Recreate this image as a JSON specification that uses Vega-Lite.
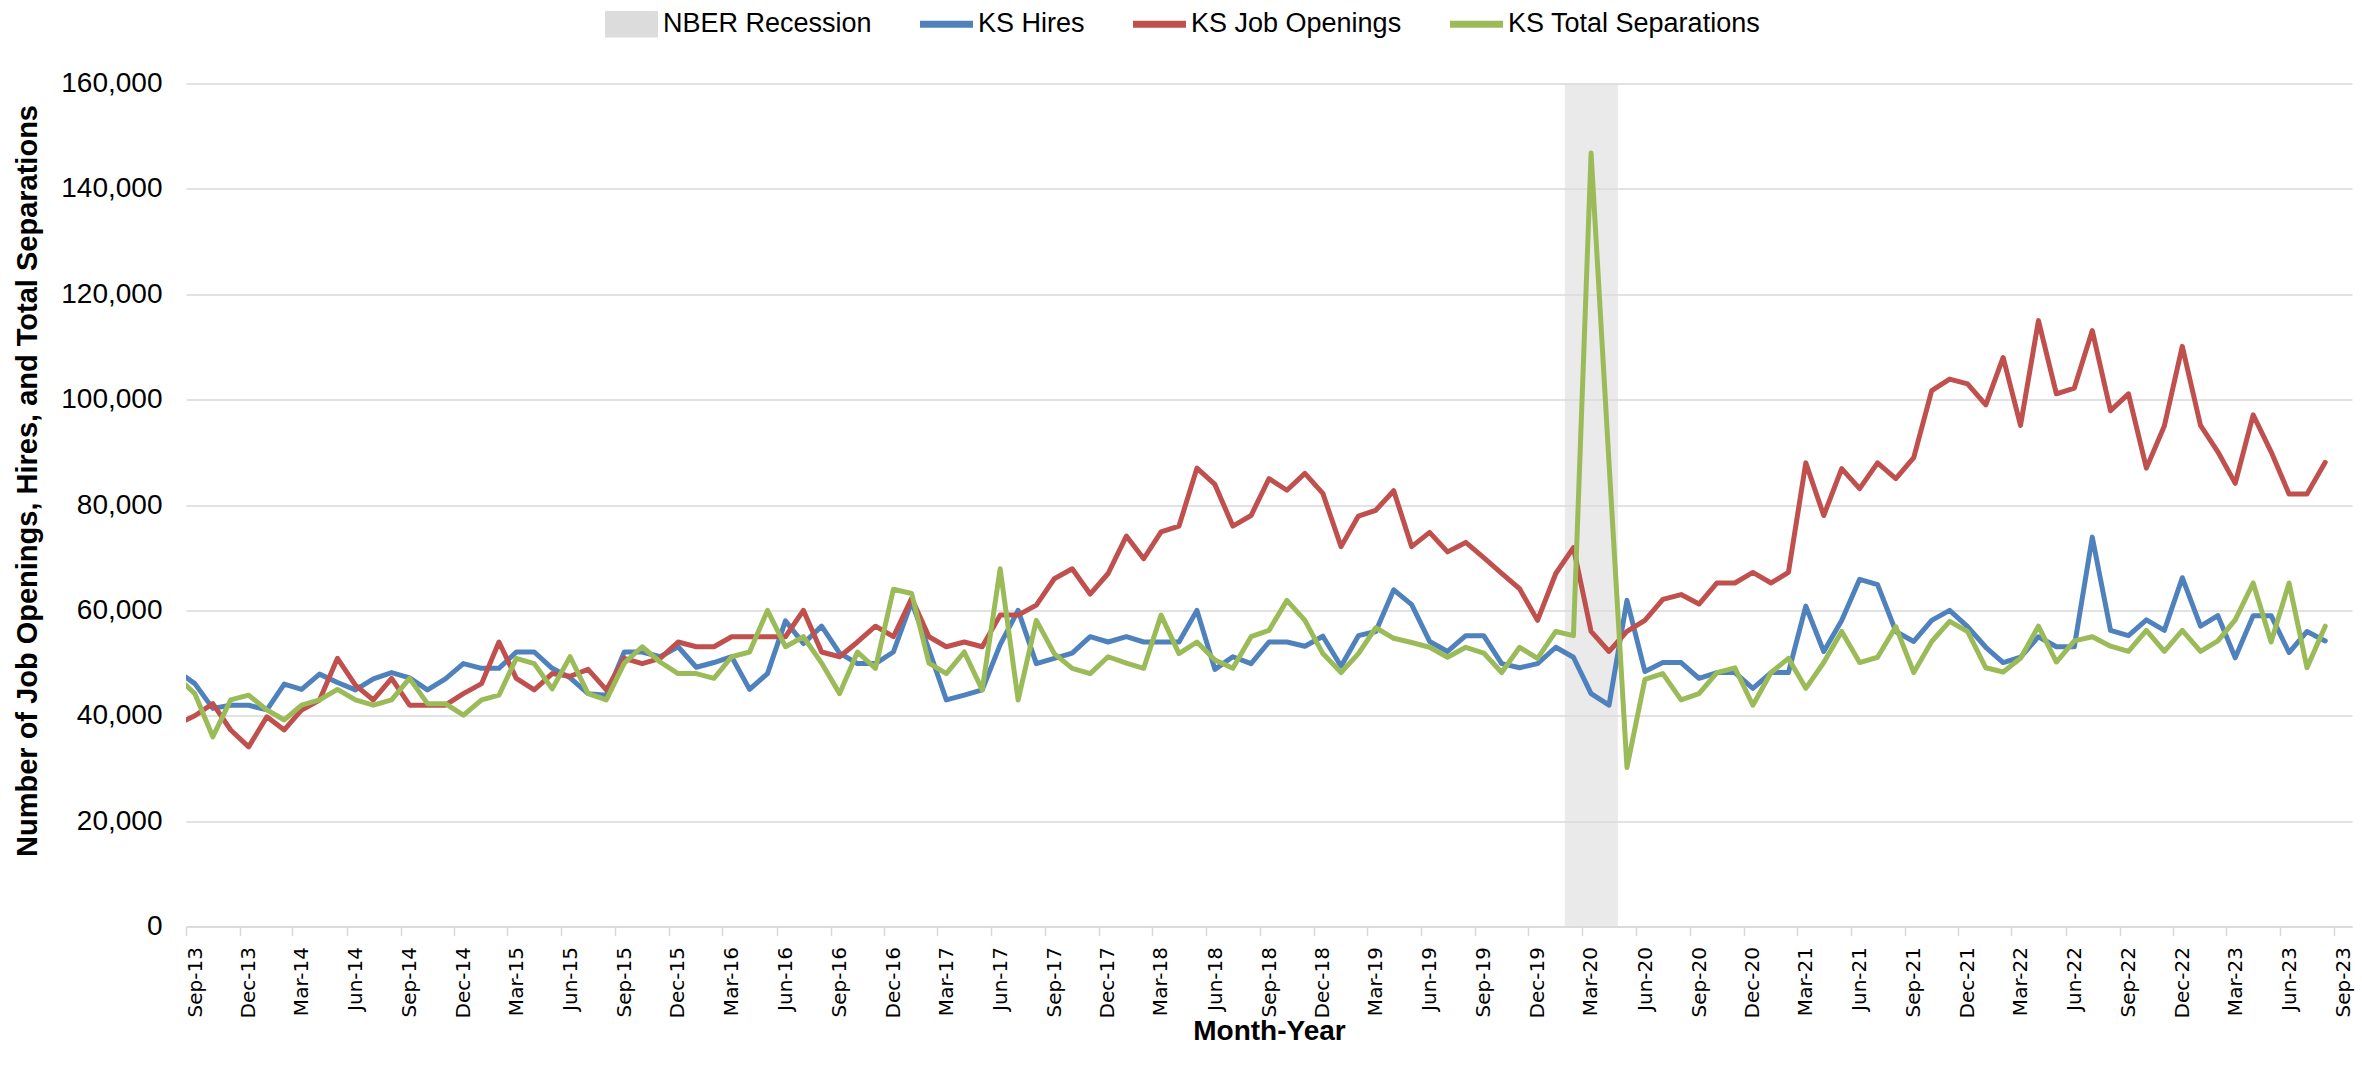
{
  "$schema": "https://vega.github.io/schema/vega-lite/v6.json",
  "width": 2166,
  "height": 843,
  "autosize": {"type": "none"},
  "padding": {"left": 186, "top": 83.5, "right": 10, "bottom": 159.5},
  "background": "white",
  "config": {"view": {"stroke": null}},
  "datasets": {
    "recession": [{"start": "2020-02-01", "end": "2020-05-01", "series": "NBER Recession"}],
    "jolts": [
      {"date": "2013-08-01", "KS Hires": 48500, "KS Job Openings": 38400, "KS Total Separations": 47400},
      {"date": "2013-09-01", "KS Hires": 46100, "KS Job Openings": 40000, "KS Total Separations": 44200},
      {"date": "2013-10-01", "KS Hires": 41400, "KS Job Openings": 42300, "KS Total Separations": 36000},
      {"date": "2013-11-01", "KS Hires": 42000, "KS Job Openings": 37300, "KS Total Separations": 43000},
      {"date": "2013-12-01", "KS Hires": 42000, "KS Job Openings": 34100, "KS Total Separations": 43900},
      {"date": "2014-01-01", "KS Hires": 41100, "KS Job Openings": 39800, "KS Total Separations": 41100},
      {"date": "2014-02-01", "KS Hires": 46000, "KS Job Openings": 37300, "KS Total Separations": 39200},
      {"date": "2014-03-01", "KS Hires": 45000, "KS Job Openings": 41100, "KS Total Separations": 42000},
      {"date": "2014-04-01", "KS Hires": 47900, "KS Job Openings": 43000, "KS Total Separations": 43000},
      {"date": "2014-05-01", "KS Hires": 46300, "KS Job Openings": 50900, "KS Total Separations": 45000},
      {"date": "2014-06-01", "KS Hires": 44900, "KS Job Openings": 45800, "KS Total Separations": 43000},
      {"date": "2014-07-01", "KS Hires": 47000, "KS Job Openings": 43000, "KS Total Separations": 42000},
      {"date": "2014-08-01", "KS Hires": 48200, "KS Job Openings": 47100, "KS Total Separations": 43000},
      {"date": "2014-09-01", "KS Hires": 47200, "KS Job Openings": 42000, "KS Total Separations": 47100},
      {"date": "2014-10-01", "KS Hires": 44900, "KS Job Openings": 42000, "KS Total Separations": 42300},
      {"date": "2014-11-01", "KS Hires": 47000, "KS Job Openings": 42000, "KS Total Separations": 42300},
      {"date": "2014-12-01", "KS Hires": 49900, "KS Job Openings": 44200, "KS Total Separations": 40100},
      {"date": "2015-01-01", "KS Hires": 49000, "KS Job Openings": 46100, "KS Total Separations": 43000},
      {"date": "2015-02-01", "KS Hires": 49000, "KS Job Openings": 54000, "KS Total Separations": 43900},
      {"date": "2015-03-01", "KS Hires": 52100, "KS Job Openings": 47100, "KS Total Separations": 50900},
      {"date": "2015-04-01", "KS Hires": 52100, "KS Job Openings": 44900, "KS Total Separations": 49900},
      {"date": "2015-05-01", "KS Hires": 49000, "KS Job Openings": 48000, "KS Total Separations": 45100},
      {"date": "2015-06-01", "KS Hires": 47200, "KS Job Openings": 47500, "KS Total Separations": 51200},
      {"date": "2015-07-01", "KS Hires": 44200, "KS Job Openings": 48800, "KS Total Separations": 44200},
      {"date": "2015-08-01", "KS Hires": 43900, "KS Job Openings": 44900, "KS Total Separations": 43000},
      {"date": "2015-09-01", "KS Hires": 52100, "KS Job Openings": 50900, "KS Total Separations": 50000},
      {"date": "2015-10-01", "KS Hires": 52100, "KS Job Openings": 49900, "KS Total Separations": 53100},
      {"date": "2015-11-01", "KS Hires": 51200, "KS Job Openings": 50900, "KS Total Separations": 50200},
      {"date": "2015-12-01", "KS Hires": 53100, "KS Job Openings": 54000, "KS Total Separations": 48000},
      {"date": "2016-01-01", "KS Hires": 49200, "KS Job Openings": 53100, "KS Total Separations": 48000},
      {"date": "2016-02-01", "KS Hires": 50100, "KS Job Openings": 53100, "KS Total Separations": 47100},
      {"date": "2016-03-01", "KS Hires": 51200, "KS Job Openings": 55000, "KS Total Separations": 51200},
      {"date": "2016-04-01", "KS Hires": 45000, "KS Job Openings": 55000, "KS Total Separations": 52100},
      {"date": "2016-05-01", "KS Hires": 48000, "KS Job Openings": 55000, "KS Total Separations": 60000},
      {"date": "2016-06-01", "KS Hires": 58000, "KS Job Openings": 55000, "KS Total Separations": 53100},
      {"date": "2016-07-01", "KS Hires": 53700, "KS Job Openings": 60000, "KS Total Separations": 55000},
      {"date": "2016-08-01", "KS Hires": 57000, "KS Job Openings": 52100, "KS Total Separations": 50000},
      {"date": "2016-09-01", "KS Hires": 51900, "KS Job Openings": 51200, "KS Total Separations": 44200},
      {"date": "2016-10-01", "KS Hires": 49900, "KS Job Openings": 54000, "KS Total Separations": 52100},
      {"date": "2016-11-01", "KS Hires": 49900, "KS Job Openings": 57000, "KS Total Separations": 49000},
      {"date": "2016-12-01", "KS Hires": 52100, "KS Job Openings": 55000, "KS Total Separations": 64000},
      {"date": "2017-01-01", "KS Hires": 61600, "KS Job Openings": 62300, "KS Total Separations": 63200},
      {"date": "2017-02-01", "KS Hires": 52500, "KS Job Openings": 55000, "KS Total Separations": 50000},
      {"date": "2017-03-01", "KS Hires": 43000, "KS Job Openings": 53100, "KS Total Separations": 48000},
      {"date": "2017-04-01", "KS Hires": 43900, "KS Job Openings": 54000, "KS Total Separations": 52100},
      {"date": "2017-05-01", "KS Hires": 44900, "KS Job Openings": 53100, "KS Total Separations": 44900},
      {"date": "2017-06-01", "KS Hires": 53500, "KS Job Openings": 59100, "KS Total Separations": 67900},
      {"date": "2017-07-01", "KS Hires": 60000, "KS Job Openings": 59100, "KS Total Separations": 43000},
      {"date": "2017-08-01", "KS Hires": 49900, "KS Job Openings": 61000, "KS Total Separations": 58100},
      {"date": "2017-09-01", "KS Hires": 50900, "KS Job Openings": 66000, "KS Total Separations": 51800},
      {"date": "2017-10-01", "KS Hires": 51900, "KS Job Openings": 67900, "KS Total Separations": 49000},
      {"date": "2017-11-01", "KS Hires": 55000, "KS Job Openings": 63100, "KS Total Separations": 48000},
      {"date": "2017-12-01", "KS Hires": 54000, "KS Job Openings": 67000, "KS Total Separations": 51200},
      {"date": "2018-01-01", "KS Hires": 55000, "KS Job Openings": 74100, "KS Total Separations": 50000},
      {"date": "2018-02-01", "KS Hires": 54000, "KS Job Openings": 69800, "KS Total Separations": 49000},
      {"date": "2018-03-01", "KS Hires": 54000, "KS Job Openings": 74900, "KS Total Separations": 59100},
      {"date": "2018-04-01", "KS Hires": 54000, "KS Job Openings": 76000, "KS Total Separations": 51800},
      {"date": "2018-05-01", "KS Hires": 60000, "KS Job Openings": 87000, "KS Total Separations": 54000},
      {"date": "2018-06-01", "KS Hires": 48800, "KS Job Openings": 83900, "KS Total Separations": 50600},
      {"date": "2018-07-01", "KS Hires": 51200, "KS Job Openings": 76000, "KS Total Separations": 49000},
      {"date": "2018-08-01", "KS Hires": 49900, "KS Job Openings": 78000, "KS Total Separations": 55000},
      {"date": "2018-09-01", "KS Hires": 54000, "KS Job Openings": 85000, "KS Total Separations": 56200},
      {"date": "2018-10-01", "KS Hires": 54000, "KS Job Openings": 82800, "KS Total Separations": 61900},
      {"date": "2018-11-01", "KS Hires": 53200, "KS Job Openings": 86000, "KS Total Separations": 58100},
      {"date": "2018-12-01", "KS Hires": 55100, "KS Job Openings": 82200, "KS Total Separations": 51800},
      {"date": "2019-01-01", "KS Hires": 49400, "KS Job Openings": 72100, "KS Total Separations": 48200},
      {"date": "2019-02-01", "KS Hires": 55200, "KS Job Openings": 77900, "KS Total Separations": 51800},
      {"date": "2019-03-01", "KS Hires": 56000, "KS Job Openings": 79000, "KS Total Separations": 56700},
      {"date": "2019-04-01", "KS Hires": 63900, "KS Job Openings": 82700, "KS Total Separations": 54700},
      {"date": "2019-05-01", "KS Hires": 61100, "KS Job Openings": 72100, "KS Total Separations": 53900},
      {"date": "2019-06-01", "KS Hires": 54100, "KS Job Openings": 74800, "KS Total Separations": 53000},
      {"date": "2019-07-01", "KS Hires": 52200, "KS Job Openings": 71100, "KS Total Separations": 51100},
      {"date": "2019-08-01", "KS Hires": 55200, "KS Job Openings": 72900, "KS Total Separations": 53000},
      {"date": "2019-09-01", "KS Hires": 55200, "KS Job Openings": 70000, "KS Total Separations": 51900},
      {"date": "2019-10-01", "KS Hires": 49900, "KS Job Openings": 67000, "KS Total Separations": 48200},
      {"date": "2019-11-01", "KS Hires": 49100, "KS Job Openings": 64100, "KS Total Separations": 53000},
      {"date": "2019-12-01", "KS Hires": 49900, "KS Job Openings": 58100, "KS Total Separations": 50900},
      {"date": "2020-01-01", "KS Hires": 53000, "KS Job Openings": 67000, "KS Total Separations": 56000},
      {"date": "2020-02-01", "KS Hires": 51100, "KS Job Openings": 71900, "KS Total Separations": 55200},
      {"date": "2020-03-01", "KS Hires": 44200, "KS Job Openings": 56000, "KS Total Separations": 146800},
      {"date": "2020-04-01", "KS Hires": 42000, "KS Job Openings": 52200, "KS Total Separations": 88000},
      {"date": "2020-05-01", "KS Hires": 61900, "KS Job Openings": 56000, "KS Total Separations": 30200},
      {"date": "2020-06-01", "KS Hires": 48400, "KS Job Openings": 58100, "KS Total Separations": 46900},
      {"date": "2020-07-01", "KS Hires": 50100, "KS Job Openings": 62100, "KS Total Separations": 48000},
      {"date": "2020-08-01", "KS Hires": 50100, "KS Job Openings": 63000, "KS Total Separations": 43000},
      {"date": "2020-09-01", "KS Hires": 47100, "KS Job Openings": 61200, "KS Total Separations": 44200},
      {"date": "2020-10-01", "KS Hires": 48200, "KS Job Openings": 65200, "KS Total Separations": 48200},
      {"date": "2020-11-01", "KS Hires": 48200, "KS Job Openings": 65200, "KS Total Separations": 49100},
      {"date": "2020-12-01", "KS Hires": 45200, "KS Job Openings": 67200, "KS Total Separations": 42000},
      {"date": "2021-01-01", "KS Hires": 48200, "KS Job Openings": 65200, "KS Total Separations": 48200},
      {"date": "2021-02-01", "KS Hires": 48200, "KS Job Openings": 67200, "KS Total Separations": 50900},
      {"date": "2021-03-01", "KS Hires": 60800, "KS Job Openings": 88000, "KS Total Separations": 45200},
      {"date": "2021-04-01", "KS Hires": 52200, "KS Job Openings": 78000, "KS Total Separations": 50100},
      {"date": "2021-05-01", "KS Hires": 58100, "KS Job Openings": 86900, "KS Total Separations": 56000},
      {"date": "2021-06-01", "KS Hires": 65900, "KS Job Openings": 83100, "KS Total Separations": 50100},
      {"date": "2021-07-01", "KS Hires": 64900, "KS Job Openings": 88000, "KS Total Separations": 51100},
      {"date": "2021-08-01", "KS Hires": 56000, "KS Job Openings": 85000, "KS Total Separations": 56900},
      {"date": "2021-09-01", "KS Hires": 54100, "KS Job Openings": 89000, "KS Total Separations": 48200},
      {"date": "2021-10-01", "KS Hires": 58100, "KS Job Openings": 101700, "KS Total Separations": 54100},
      {"date": "2021-11-01", "KS Hires": 60000, "KS Job Openings": 103900, "KS Total Separations": 57900},
      {"date": "2021-12-01", "KS Hires": 56900, "KS Job Openings": 103000, "KS Total Separations": 56000},
      {"date": "2022-01-01", "KS Hires": 53000, "KS Job Openings": 99000, "KS Total Separations": 49100},
      {"date": "2022-02-01", "KS Hires": 50100, "KS Job Openings": 108000, "KS Total Separations": 48300},
      {"date": "2022-03-01", "KS Hires": 51100, "KS Job Openings": 95100, "KS Total Separations": 50900},
      {"date": "2022-04-01", "KS Hires": 55000, "KS Job Openings": 115000, "KS Total Separations": 57000},
      {"date": "2022-05-01", "KS Hires": 53100, "KS Job Openings": 101100, "KS Total Separations": 50200},
      {"date": "2022-06-01", "KS Hires": 53100, "KS Job Openings": 102200, "KS Total Separations": 54200},
      {"date": "2022-07-01", "KS Hires": 73900, "KS Job Openings": 113100, "KS Total Separations": 55000},
      {"date": "2022-08-01", "KS Hires": 56200, "KS Job Openings": 97900, "KS Total Separations": 53200},
      {"date": "2022-09-01", "KS Hires": 55200, "KS Job Openings": 101100, "KS Total Separations": 52200},
      {"date": "2022-10-01", "KS Hires": 58200, "KS Job Openings": 87000, "KS Total Separations": 56200},
      {"date": "2022-11-01", "KS Hires": 56200, "KS Job Openings": 95000, "KS Total Separations": 52200},
      {"date": "2022-12-01", "KS Hires": 66200, "KS Job Openings": 110100, "KS Total Separations": 56200},
      {"date": "2023-01-01", "KS Hires": 57000, "KS Job Openings": 95100, "KS Total Separations": 52200},
      {"date": "2023-02-01", "KS Hires": 59000, "KS Job Openings": 90100, "KS Total Separations": 54200},
      {"date": "2023-03-01", "KS Hires": 51000, "KS Job Openings": 84100, "KS Total Separations": 58200},
      {"date": "2023-04-01", "KS Hires": 59000, "KS Job Openings": 97100, "KS Total Separations": 65200},
      {"date": "2023-05-01", "KS Hires": 59000, "KS Job Openings": 90100, "KS Total Separations": 54000},
      {"date": "2023-06-01", "KS Hires": 52000, "KS Job Openings": 82100, "KS Total Separations": 65200},
      {"date": "2023-07-01", "KS Hires": 56000, "KS Job Openings": 82100, "KS Total Separations": 49100},
      {"date": "2023-08-01", "KS Hires": 54200, "KS Job Openings": 88100, "KS Total Separations": 57000}
    ]
  },
  "layer": [
    {
      "data": {"name": "recession"},
      "mark": {"type": "rect", "opacity": 0.6},
      "encoding": {
        "x": {"field": "start", "type": "temporal", "scale": {"type": "utc", "domain": [{"year": 2013, "month": 9, "date": 1, "utc": true}, {"year": 2023, "month": 10, "date": 1, "utc": true}]}},
        "x2": {"field": "end"},
        "color": {"field": "series", "type": "nominal", "scale": {"domain": ["NBER Recession", "KS Hires", "KS Job Openings", "KS Total Separations"], "range": ["#dcdcdc", "#4f81bd", "#c0504d", "#9bbb59"]}}
      }
    },
    {
      "data": {"name": "jolts"},
      "transform": [{"fold": ["KS Hires", "KS Job Openings", "KS Total Separations"], "as": ["series", "value"]}],
      "mark": {"type": "line", "strokeWidth": 5, "strokeJoin": "round", "strokeCap": "round", "clip": true},
      "encoding": {
        "x": {
          "field": "date", "type": "temporal", "timeUnit": "utcyearmonth", "bandPosition": 0.5,
          "scale": {"type": "utc", "domain": [{"year": 2013, "month": 9, "date": 1, "utc": true}, {"year": 2023, "month": 10, "date": 1, "utc": true}]},
          "axis": {
            "title": "Month-Year",
            "values": [
              {"year": 2013, "month": 9, "date": 1, "utc": true}, {"year": 2013, "month": 12, "date": 1, "utc": true},
              {"year": 2014, "month": 3, "date": 1, "utc": true}, {"year": 2014, "month": 6, "date": 1, "utc": true}, {"year": 2014, "month": 9, "date": 1, "utc": true}, {"year": 2014, "month": 12, "date": 1, "utc": true},
              {"year": 2015, "month": 3, "date": 1, "utc": true}, {"year": 2015, "month": 6, "date": 1, "utc": true}, {"year": 2015, "month": 9, "date": 1, "utc": true}, {"year": 2015, "month": 12, "date": 1, "utc": true},
              {"year": 2016, "month": 3, "date": 1, "utc": true}, {"year": 2016, "month": 6, "date": 1, "utc": true}, {"year": 2016, "month": 9, "date": 1, "utc": true}, {"year": 2016, "month": 12, "date": 1, "utc": true},
              {"year": 2017, "month": 3, "date": 1, "utc": true}, {"year": 2017, "month": 6, "date": 1, "utc": true}, {"year": 2017, "month": 9, "date": 1, "utc": true}, {"year": 2017, "month": 12, "date": 1, "utc": true},
              {"year": 2018, "month": 3, "date": 1, "utc": true}, {"year": 2018, "month": 6, "date": 1, "utc": true}, {"year": 2018, "month": 9, "date": 1, "utc": true}, {"year": 2018, "month": 12, "date": 1, "utc": true},
              {"year": 2019, "month": 3, "date": 1, "utc": true}, {"year": 2019, "month": 6, "date": 1, "utc": true}, {"year": 2019, "month": 9, "date": 1, "utc": true}, {"year": 2019, "month": 12, "date": 1, "utc": true},
              {"year": 2020, "month": 3, "date": 1, "utc": true}, {"year": 2020, "month": 6, "date": 1, "utc": true}, {"year": 2020, "month": 9, "date": 1, "utc": true}, {"year": 2020, "month": 12, "date": 1, "utc": true},
              {"year": 2021, "month": 3, "date": 1, "utc": true}, {"year": 2021, "month": 6, "date": 1, "utc": true}, {"year": 2021, "month": 9, "date": 1, "utc": true}, {"year": 2021, "month": 12, "date": 1, "utc": true},
              {"year": 2022, "month": 3, "date": 1, "utc": true}, {"year": 2022, "month": 6, "date": 1, "utc": true}, {"year": 2022, "month": 9, "date": 1, "utc": true}, {"year": 2022, "month": 12, "date": 1, "utc": true},
              {"year": 2023, "month": 3, "date": 1, "utc": true}, {"year": 2023, "month": 6, "date": 1, "utc": true}, {"year": 2023, "month": 9, "date": 1, "utc": true}
            ],
            "labelExpr": "utcFormat(datum.value, '%b-%y')",
            "labelAngle": 270,
            "labelOffset": 9,
            "labelFont": "DejaVu Sans",
            "labelFontSize": 20,
            "labelColor": "#000000",
            "labelPadding": 11,
            "labelOverlap": false,
            "labelFlush": false,
            "labelBound": false,
            "tickSize": 9,
            "tickColor": "#d9d9d9",
            "tickWidth": 1.5,
            "domainColor": "#d9d9d9",
            "domainWidth": 1.5,
            "grid": false,
            "titleFont": "Liberation Sans",
            "titleFontSize": 28,
            "titleFontWeight": "bold",
            "titleColor": "#000000",
            "titlePadding": 0
          }
        },
        "y": {
          "field": "value", "type": "quantitative",
          "scale": {"domain": [0, 160000], "nice": false},
          "axis": {
            "title": "Number of Job Openings, Hires, and Total Separations",
            "values": [0, 20000, 40000, 60000, 80000, 100000, 120000, 140000, 160000],
            "format": ",.0f",
            "grid": true,
            "gridColor": "#d9d9d9",
            "gridWidth": 1.5,
            "domain": false,
            "ticks": false,
            "labelFont": "Liberation Sans",
            "labelFontSize": 28,
            "labelColor": "#000000",
            "labelPadding": 24,
            "titleFont": "Liberation Sans",
            "titleFontSize": 29,
            "titleFontWeight": "bold",
            "titleColor": "#000000",
            "titlePadding": 18,
            "titleY": 397
          }
        },
        "color": {
          "field": "series", "type": "nominal",
          "scale": {"domain": ["NBER Recession", "KS Hires", "KS Job Openings", "KS Total Separations"], "range": ["#dcdcdc", "#4f81bd", "#c0504d", "#9bbb59"]},
          "legend": {
            "title": null,
            "orient": "none",
            "legendX": 419,
            "legendY": -86,
            "direction": "horizontal",
            "padding": 0,
            "columnPadding": 48,
            "labelOffset": 5,
            "labelFont": "Liberation Sans",
            "labelFontSize": 27,
            "labelColor": "#000000",
            "labelLimit": 0,
            "symbolSize": 2809,
            "symbolType": "M-1,-0.13H1V0.13H-1Z",
            "symbolStrokeWidth": 0,
            "encode": {
              "symbols": {
                "update": {
                  "fill": {"signal": "datum.value === 'NBER Recession' ? '#eaeaea' : scale('color', datum.value)"},
                  "shape": {"signal": "datum.value === 'NBER Recession' ? 'M-1,-0.5H1V0.5H-1Z' : 'M-1,-0.13H1V0.13H-1Z'"},
                  "opacity": {"value": 1},
                  "fillOpacity": {"value": 1},
                  "strokeWidth": {"value": 0}
                }
              }
            }
          }
        }
      }
    }
  ]
}
